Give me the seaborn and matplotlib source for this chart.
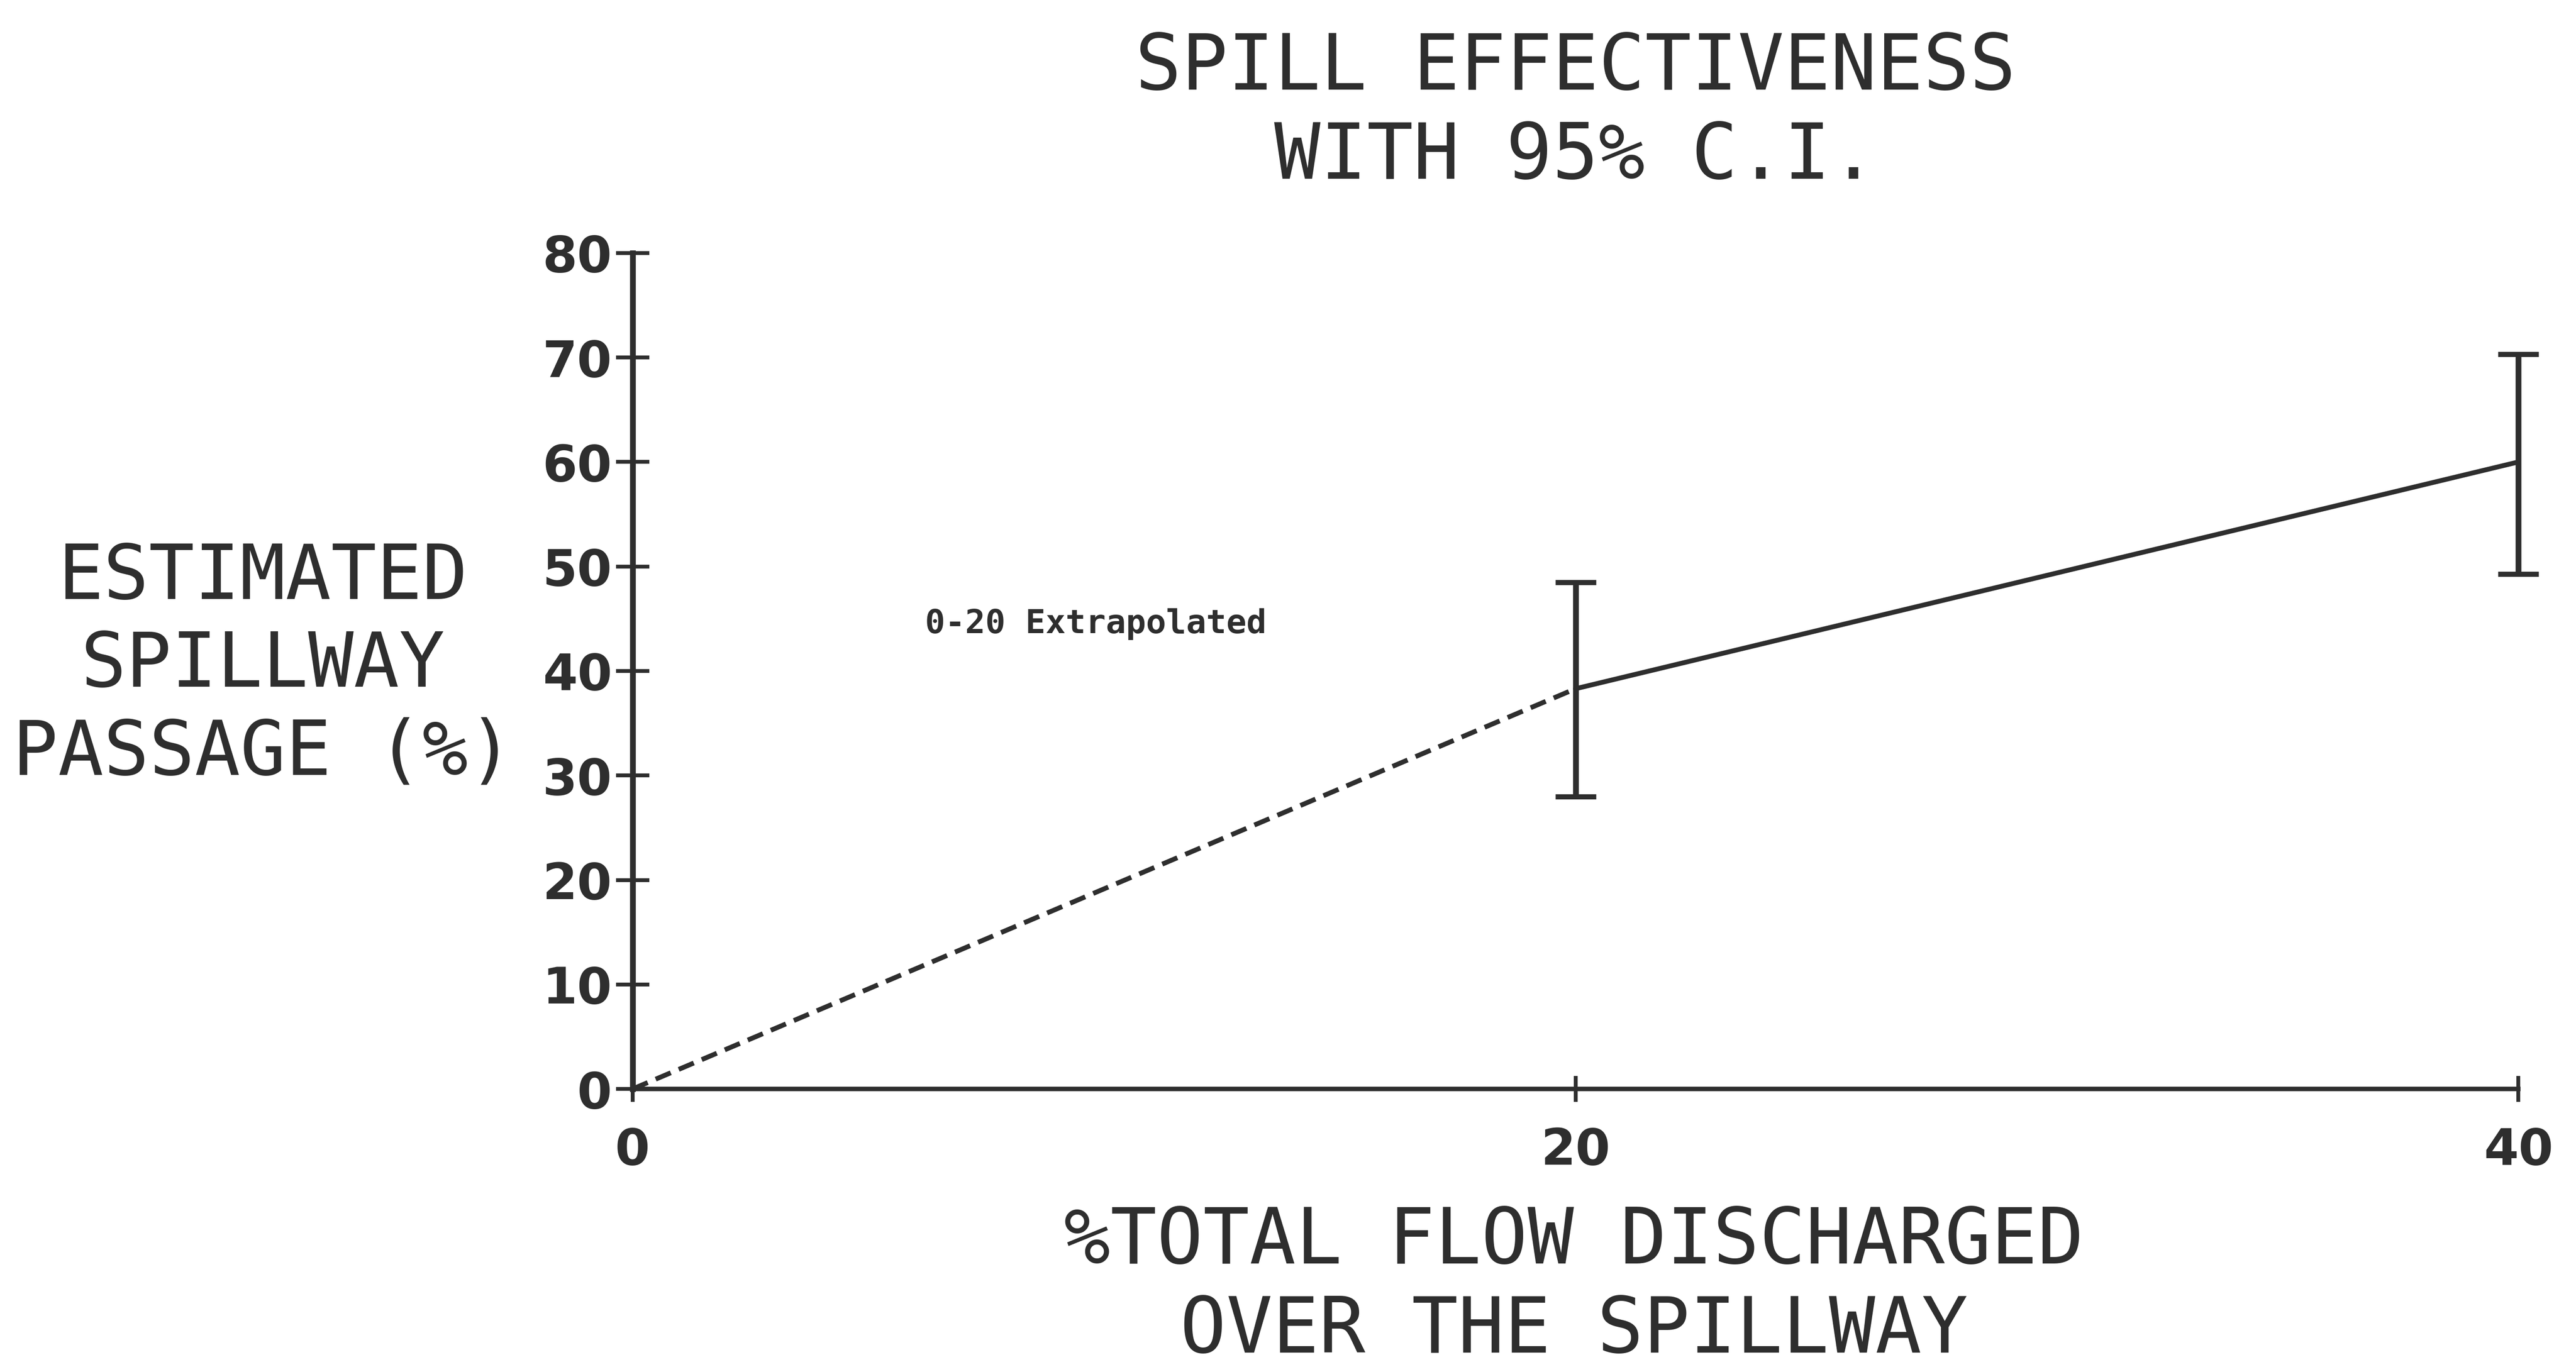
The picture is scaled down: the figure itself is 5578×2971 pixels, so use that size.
import numpy as np
import matplotlib
matplotlib.use("Agg")
import matplotlib.pyplot as plt
import seaborn as sns
import pandas as pd

# data
flow_pct = [20, 40]
passage_pct = [38.3, 60.0]
ci_low = [28.0, 49.3]
ci_high = [48.5, 70.3]
extrap_x = [0, 20]
extrap_y = [0, 38.3]

x_ticks = [0, 20, 40]
y_ticks = [0, 10, 20, 30, 40, 50, 60, 70, 80]

INK = "#2e2e2e"

sns.set_theme(style="white")
plt.rcParams["font.family"] = ["DejaVu Sans Mono", "DejaVu Sans"]

fig = plt.figure(figsize=(55.78, 29.71), dpi=100)
ax = fig.add_axes([0.2456, 0.2063, 0.7320, 0.6093])

meas = pd.DataFrame({"flow": flow_pct, "passage": passage_pct})
extrap = pd.DataFrame({"flow": extrap_x, "passage": extrap_y})

sns.lineplot(data=extrap, x="flow", y="passage", ax=ax, color=INK,
             linewidth=7.5, clip_on=False)
ax.lines[-1].set_dashes((3.4, 1.8))
sns.lineplot(data=meas, x="flow", y="passage", ax=ax, color=INK,
             linewidth=7.5, clip_on=False)

yerr = [np.array(passage_pct) - np.array(ci_low), np.array(ci_high) - np.array(passage_pct)]
ax.errorbar(flow_pct, passage_pct, yerr=yerr, fmt="none", ecolor=INK,
            elinewidth=9, capsize=32, capthick=8, clip_on=False)

ax.set_xlim(0, 40)
ax.set_ylim(0, 80)
ax.set_xticks(x_ticks)
ax.set_yticks(y_ticks)
ax.set_xticklabels([str(t) for t in x_ticks], fontfamily="DejaVu Sans", fontsize=78,
                   fontweight="bold")
ax.set_yticklabels([str(t) for t in y_ticks], fontfamily="DejaVu Sans", fontsize=78,
                   fontweight="bold")

for s in ["top", "right"]:
    ax.spines[s].set_visible(False)
ax.spines["left"].set_linewidth(9)
ax.spines["bottom"].set_linewidth(7)
ax.spines["left"].set_color(INK)
ax.spines["bottom"].set_color(INK)

ax.tick_params(axis="y", direction="inout", length=52, width=6, color=INK,
               labelcolor=INK, pad=6, left=True)
ax.tick_params(axis="x", direction="inout", length=40, width=6, color=INK,
               labelcolor=INK, pad=38, bottom=True)

ax.set_xlabel("")
ax.set_ylabel("")

fig.text(0.6116, 0.978, "SPILL EFFECTIVENESS\nWITH 95% C.I.", ha="center", va="top",
         fontsize=120, color=INK, linespacing=1.22)
fig.text(0.102, 0.515, "ESTIMATED\nSPILLWAY\nPASSAGE (%)", ha="center", va="center",
         fontsize=118, color=INK, linespacing=1.24)
fig.text(0.6110, 0.0625, "%TOTAL FLOW DISCHARGED\nOVER THE SPILLWAY", ha="center", va="center",
         fontsize=120, color=INK, linespacing=1.22)

ax.text(6.2, 44.5, "0-20 Extrapolated", ha="left", va="center", fontsize=52,
        fontweight="bold", color=INK)

fig.savefig("out.png", dpi=100, facecolor="white")
